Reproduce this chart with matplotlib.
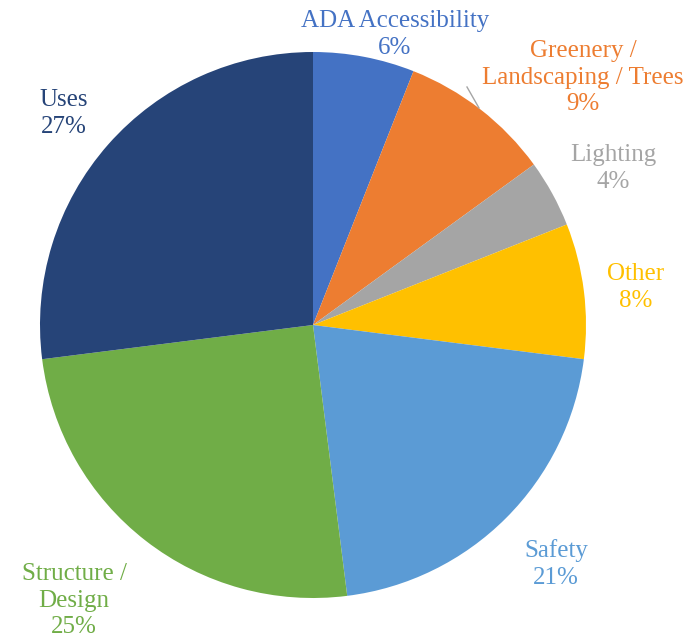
import matplotlib
matplotlib.use("Agg")
import matplotlib.pyplot as plt

labels = ["ADA Accessibility", "Greenery /\nLandscaping / Trees", "Lighting", "Other",
          "Safety", "Structure /\nDesign", "Uses"]
values = [6, 9, 4, 8, 21, 25, 27]
colors = ["#4472C4", "#ED7D31", "#A5A5A5", "#FFC000", "#5B9BD5", "#70AD47", "#264478"]

# label centres in pixels (x, y of the top line)
label_pos = [(395, 18), (583, 48), (613, 152), (636, 271), (556, 547), (74, 571), (64, 97)]

W, H = 691, 639
fig = plt.figure(figsize=(W / 100, H / 100), dpi=100)
cx, cy, r = 313, 325, 273
ax = fig.add_axes([(cx - r) / W, (H - cy - r) / H, 2 * r / W, 2 * r / H])
ax.pie(values, colors=colors, startangle=90, counterclock=False, radius=1,
       wedgeprops=dict(linewidth=0))
ax.set_xlim(-1, 1)
ax.set_ylim(-1, 1)
ax.set_aspect("equal")
ax.axis("off")

for lab, v, c, (px, py) in zip(labels, values, colors, label_pos):
    txt = lab + "\n" + f"{v}%"
    fig.text(px / W, 1 - (py - 8) / H, txt, ha="center", va="top", color=c,
             fontsize=18, family="Liberation Serif", linespacing=1.27)

# leader line for the greenery label
fig.add_artist(plt.Line2D([467 / W, 479 / W], [1 - 87 / H, 1 - 108 / H], color="#A5A5A5", lw=1))

fig.savefig("out.png", dpi=100)
